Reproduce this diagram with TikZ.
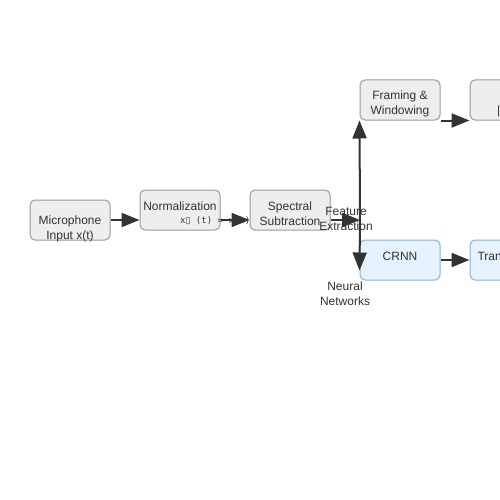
\documentclass[tikz,border=0pt]{standalone}
\usepackage{fontspec}
\setmainfont{Liberation Sans}
\newfontfamily\monofont{DejaVu Sans Mono}
\newfontfamily\symfont{DejaVu Sans}
\usetikzlibrary{arrows.meta}
\definecolor{txt}{HTML}{333333}
\definecolor{arrowc}{HTML}{333333}
\definecolor{grayfill}{HTML}{EEEEEE}
\definecolor{grayline}{HTML}{999999}
\definecolor{bluefill}{HTML}{E6F2FF}
\definecolor{blueline}{HTML}{7FB2EC}
\tikzset{
  graybox/.style={draw=grayline, fill=grayfill, rounded corners=5pt, line width=1pt,
    minimum width=80pt, minimum height=40pt, inner sep=0pt},
  bluebox/.style={draw=blueline, fill=bluefill, rounded corners=5pt, line width=1pt,
    minimum width=80pt, minimum height=40pt, inner sep=0pt},
  lbl/.style={font=\fontsize{12}{15}\selectfont, text=txt, align=center, inner sep=0pt},
  monolbl/.style={font=\monofont\fontsize{9}{11}\selectfont, text=txt, inner sep=0pt, anchor=west},
  arr/.style={draw=arrowc, line width=2pt, -{Triangle[length=18pt,width=14pt]}},
}
\begin{document}
\begin{tikzpicture}[x=1pt,y=-1pt]
\useasboundingbox (0,0) rectangle (500,500);
\clip (0,0) rectangle (500,500);
\fill[white] (0,0) rectangle (500,500);

% boxes
\node[graybox] (mic) at (70,220) {};
\node[graybox] (norm) at (180,210) {};
\node[monolbl] (normeq) at (180,221) {x{\symfont ▯} (t) = x(t)};
\node[graybox] (spec) at (290,210) {};
\node[graybox] (frame) at (400,100) {};
\node[graybox] (fft) at (510,100) {};
\node[bluebox] (crnn) at (400,260) {};
\node[bluebox] (trans) at (510,260) {};

% box texts
\node[lbl] (micT) at (70,229) {Microphone\\Input x(t)};
\node[lbl] (normT) at (180,206) {Normalization};
\node[lbl] (specT) at (290,214) {Spectral\\Subtraction};
\node[lbl] (frameT) at (400,104) {Framing \&\\Windowing};
\node[lbl] (fftT) at (510,111) {|X(f)|};
\node[lbl] (crnnT) at (400,256) {CRNN};
\node[lbl] (transT) at (510,256) {Transformer};

% connectors
\coordinate (junc) at (360,220);
\draw[arr] (mic.east) -- (mic.east -| norm.west);
\draw[arr] ([yshift=-10pt]norm.east) -- ([yshift=-10pt]spec.west);
\draw[arr] ([yshift=-10pt]spec.east) -- (junc);
\draw[arr] (junc) -- (frame.south west);
\draw[arr] (junc) -- ([yshift=10pt]crnn.south west);
\draw[arr] (frame.south east) -- (fft.south west);
\draw[arr] (crnn.east) -- (trans.west);

% edge labels
\node[lbl] (featL) at (346,219) {Feature\\Extraction};
\node[lbl] (neurL) at (345,294) {Neural\\Networks};
\end{tikzpicture}
\end{document}
